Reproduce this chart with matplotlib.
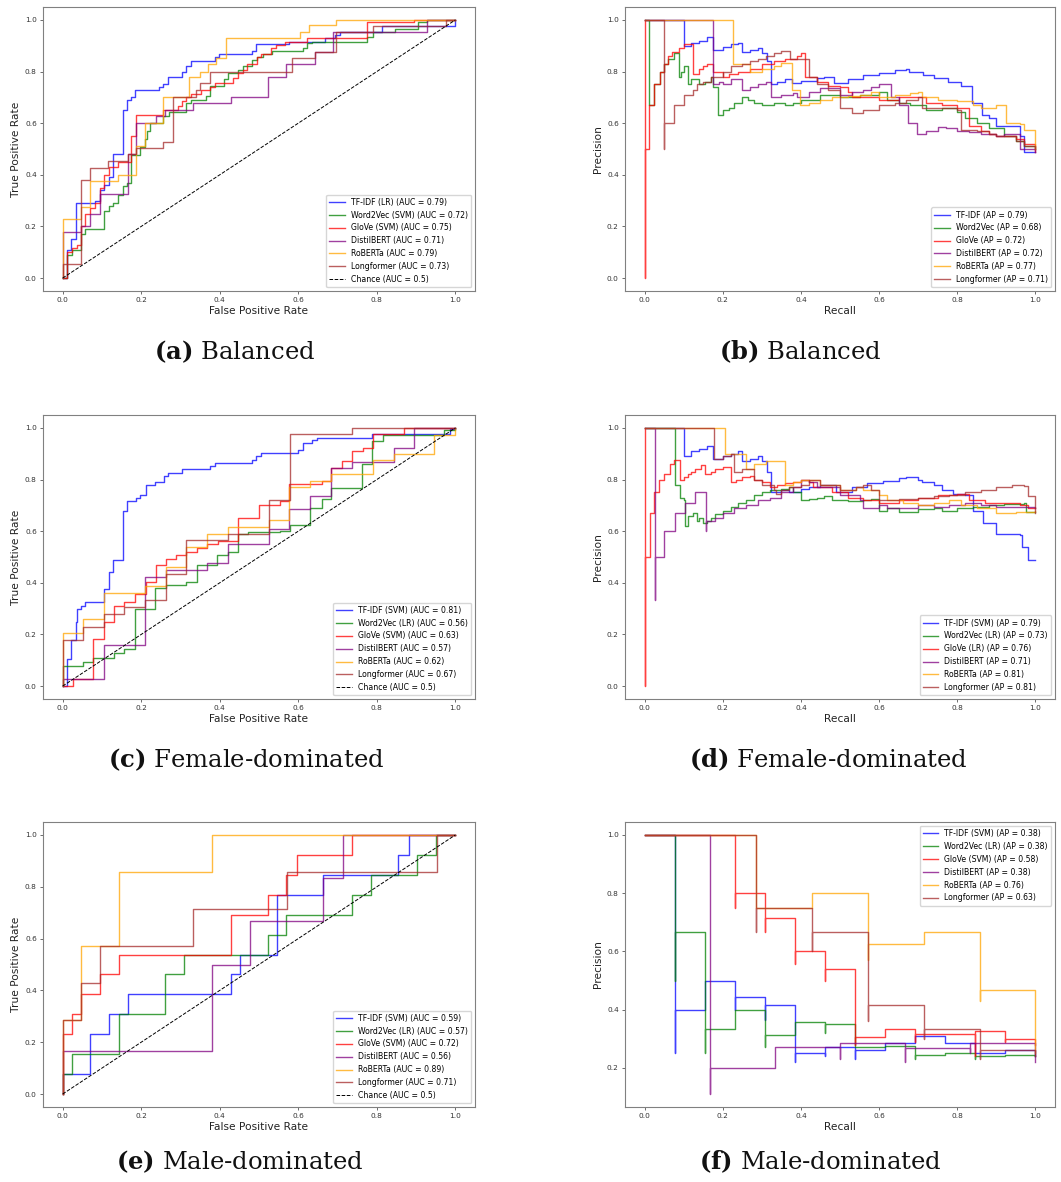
import matplotlib
matplotlib.use('Agg')
import matplotlib.pyplot as plt

plt.rcParams['mathtext.fontset'] = 'custom'
plt.rcParams['mathtext.rm'] = 'DejaVu Serif'
plt.rcParams['mathtext.bf'] = 'DejaVu Serif:bold'

COLORS = ['blue', 'green', 'red', 'purple', 'orange', 'brown']

# ---------------- (a) Balanced ROC ----------------
a_labels = ['TF-IDF (LR) (AUC = 0.79)', 'Word2Vec (SVM) (AUC = 0.72)', 'GloVe (SVM) (AUC = 0.75)',
            'DistilBERT (AUC = 0.71)', 'RoBERTa (AUC = 0.79)', 'Longformer (AUC = 0.73)']
a_tfidf_fpr = [0, 0.011, 0.021, 0.034, 0.083, 0.094, 0.106, 0.117, 0.128, 0.153, 0.164, 0.174, 0.185, 0.245, 0.255,
               0.268, 0.305, 0.315, 0.328, 0.387, 0.398, 0.481, 0.492, 0.577, 0.668, 0.694, 0.705, 0.813, 1.0]
a_tfidf_tpr = [0, 0.11, 0.15, 0.29, 0.30, 0.34, 0.36, 0.39, 0.48, 0.65, 0.69, 0.70, 0.73, 0.74, 0.75,
               0.78, 0.80, 0.82, 0.84, 0.855, 0.867, 0.88, 0.906, 0.916, 0.93, 0.94, 0.955, 0.978, 1.0]
a_w2v_fpr = [0, 0.011, 0.024, 0.047, 0.058, 0.106, 0.117, 0.128, 0.14, 0.153, 0.164, 0.174, 0.197, 0.209, 0.215,
             0.223, 0.255, 0.27, 0.315, 0.328, 0.364, 0.374, 0.411, 0.421, 0.447, 0.46, 0.481, 0.494, 0.51, 0.532,
             0.611, 0.621, 0.634, 0.774, 0.79, 0.847, 0.906, 0.928, 1.0]
a_w2v_tpr = [0, 0.09, 0.11, 0.17, 0.19, 0.26, 0.28, 0.29, 0.32, 0.355, 0.37, 0.476, 0.506, 0.538, 0.568,
             0.60, 0.626, 0.645, 0.677, 0.69, 0.706, 0.745, 0.77, 0.794, 0.806, 0.82, 0.843, 0.855, 0.868, 0.88,
             0.893, 0.91, 0.916, 0.935, 0.952, 0.965, 0.99, 1.0, 1.0]
a_glove_fpr = [0, 0.011, 0.024, 0.036, 0.047, 0.058, 0.07, 0.083, 0.094, 0.106, 0.117, 0.14, 0.174, 0.186, 0.255,
               0.294, 0.305, 0.315, 0.328, 0.353, 0.374, 0.387, 0.434, 0.447, 0.46, 0.47, 0.494, 0.506, 0.53, 0.543,
               0.566, 0.621, 0.774, 0.894, 1.0]
a_glove_tpr = [0, 0.10, 0.116, 0.13, 0.20, 0.25, 0.27, 0.29, 0.35, 0.40, 0.43, 0.45, 0.55, 0.63, 0.65,
               0.665, 0.684, 0.70, 0.712, 0.73, 0.742, 0.755, 0.774, 0.794, 0.806, 0.83, 0.855, 0.867, 0.89, 0.903,
               0.916, 0.929, 0.99, 1.0, 1.0]
a_distil_fpr = [0, 0, 0.047, 0.07, 0.094, 0.166, 0.187, 0.238, 0.261, 0.332, 0.428, 0.522, 0.57, 0.643, 0.689, 0.928, 1.0]
a_distil_tpr = [0, 0.177, 0.20, 0.25, 0.326, 0.48, 0.60, 0.628, 0.65, 0.677, 0.703, 0.777, 0.828, 0.877, 0.952, 1.0, 1.0]
a_roberta_fpr = [0, 0, 0.047, 0.07, 0.14, 0.187, 0.209, 0.255, 0.323, 0.349, 0.37, 0.391, 0.417, 0.604, 0.628, 0.696, 1.0]
a_roberta_tpr = [0, 0.228, 0.277, 0.377, 0.40, 0.51, 0.60, 0.703, 0.777, 0.80, 0.828, 0.852, 0.929, 0.955, 0.98, 1.0, 1.0]
a_long_fpr = [0, 0, 0.047, 0.07, 0.115, 0.166, 0.187, 0.255, 0.28, 0.34, 0.349, 0.374, 0.583, 0.643, 0.696, 0.79, 0.975, 1.0]
a_long_tpr = [0, 0.054, 0.378, 0.428, 0.454, 0.48, 0.503, 0.529, 0.703, 0.73, 0.755, 0.80, 0.854, 0.877, 0.955, 0.978, 1.0, 1.0]

# ---------------- (b) Balanced PR ----------------
b_labels = ['TF-IDF (AP = 0.79)', 'Word2Vec (AP = 0.68)', 'GloVe (AP = 0.72)',
            'DistilBERT (AP = 0.72)', 'RoBERTa (AP = 0.77)', 'Longformer (AP = 0.71)']
b_tfidf_rec = [0, 0.10, 0.12, 0.14, 0.16, 0.175, 0.20, 0.22, 0.24, 0.249, 0.27, 0.29, 0.30, 0.313, 0.324, 0.34, 0.36,
               0.377, 0.40, 0.44, 0.46, 0.485, 0.52, 0.56, 0.60, 0.64, 0.67, 0.677, 0.712, 0.74, 0.775, 0.81, 0.837,
               0.863, 0.88, 0.90, 0.96, 0.97, 1.0]
b_tfidf_prec = [1.0, 0.90, 0.91, 0.92, 0.935, 0.885, 0.895, 0.905, 0.91, 0.875, 0.885, 0.89, 0.87, 0.84, 0.75, 0.76, 0.77,
                0.755, 0.765, 0.775, 0.78, 0.755, 0.77, 0.785, 0.795, 0.805, 0.81, 0.80, 0.785, 0.775, 0.76, 0.745, 0.68,
                0.632, 0.62, 0.59, 0.55, 0.49, 0.49]
b_w2v_rec = [0, 0.012, 0.025, 0.04, 0.05, 0.06, 0.075, 0.087, 0.092, 0.10, 0.11, 0.12, 0.14, 0.155, 0.17, 0.175,
             0.187, 0.20, 0.215, 0.23, 0.25, 0.265, 0.28, 0.30, 0.33, 0.36, 0.38, 0.40, 0.45, 0.50, 0.55, 0.60, 0.62,
             0.65, 0.68, 0.72, 0.76, 0.80, 0.82, 0.85, 0.88, 0.92, 0.95, 0.97, 1.0]
b_w2v_prec = [1.0, 0.67, 0.75, 0.80, 0.83, 0.85, 0.87, 0.78, 0.80, 0.82, 0.75, 0.77, 0.75, 0.76, 0.78, 0.74,
              0.63, 0.65, 0.66, 0.68, 0.70, 0.69, 0.68, 0.67, 0.68, 0.67, 0.68, 0.69, 0.71, 0.70, 0.71, 0.72, 0.69,
              0.68, 0.67, 0.65, 0.66, 0.645, 0.62, 0.60, 0.58, 0.55, 0.53, 0.51, 0.50]
b_glove_rec = [0, 0, 0, 0.012, 0.025, 0.04, 0.05, 0.06, 0.07, 0.087, 0.10, 0.125, 0.14, 0.15, 0.16, 0.175, 0.20, 0.215,
               0.24, 0.27, 0.30, 0.33, 0.36, 0.39, 0.40, 0.41, 0.44, 0.47, 0.50, 0.52, 0.53, 0.60, 0.65, 0.70, 0.72,
               0.76, 0.80, 0.83, 0.86, 0.88, 0.90, 0.95, 0.97, 1.0]
b_glove_prec = [1.0, 0.0, 0.5, 0.67, 0.75, 0.80, 0.83, 0.86, 0.875, 0.89, 0.905, 0.79, 0.81, 0.82, 0.83, 0.80, 0.78, 0.79,
                0.80, 0.81, 0.83, 0.84, 0.85, 0.86, 0.87, 0.78, 0.76, 0.745, 0.74, 0.72, 0.70, 0.69, 0.70, 0.70, 0.68,
                0.67, 0.66, 0.59, 0.57, 0.56, 0.55, 0.54, 0.52, 0.49]
b_distil_rec = [0, 0.175, 0.19, 0.20, 0.22, 0.25, 0.27, 0.29, 0.31, 0.324, 0.35, 0.38, 0.39, 0.42, 0.45, 0.50, 0.53,
                0.56, 0.58, 0.60, 0.63, 0.65, 0.675, 0.698, 0.72, 0.75, 0.77, 0.80, 0.83, 0.86, 0.90, 0.92, 0.96, 1.0]
b_distil_prec = [1.0, 0.75, 0.76, 0.75, 0.77, 0.73, 0.74, 0.75, 0.76, 0.70, 0.71, 0.715, 0.70, 0.72, 0.735, 0.71, 0.72,
                 0.73, 0.74, 0.75, 0.70, 0.67, 0.60, 0.56, 0.57, 0.585, 0.58, 0.57, 0.565, 0.56, 0.55, 0.56, 0.50, 0.49]
b_roberta_rec = [0, 0.225, 0.27, 0.30, 0.33, 0.35, 0.377, 0.398, 0.42, 0.45, 0.48, 0.52, 0.55, 0.58, 0.60, 0.64, 0.68,
                 0.70, 0.71, 0.75, 0.80, 0.84, 0.86, 0.90, 0.925, 0.96, 0.97, 1.0]
b_roberta_prec = [1.0, 0.83, 0.80, 0.81, 0.82, 0.835, 0.73, 0.67, 0.68, 0.69, 0.70, 0.705, 0.71, 0.72, 0.70, 0.71, 0.715,
                  0.72, 0.70, 0.69, 0.685, 0.67, 0.66, 0.67, 0.60, 0.595, 0.575, 0.50]
b_long_rec = [0, 0.05, 0.05, 0.075, 0.10, 0.125, 0.135, 0.15, 0.17, 0.20, 0.22, 0.25, 0.27, 0.29, 0.31, 0.33, 0.35,
              0.373, 0.42, 0.44, 0.47, 0.50, 0.53, 0.56, 0.60, 0.64, 0.67, 0.70, 0.71, 0.75, 0.80, 0.81, 0.85, 0.88,
              0.90, 0.95, 0.97, 1.0]
b_long_prec = [1.0, 0.5, 0.6, 0.67, 0.71, 0.73, 0.75, 0.76, 0.78, 0.80, 0.82, 0.83, 0.84, 0.85, 0.86, 0.87, 0.88,
               0.85, 0.78, 0.75, 0.73, 0.66, 0.64, 0.65, 0.67, 0.68, 0.69, 0.70, 0.66, 0.66, 0.65, 0.575, 0.57, 0.56,
               0.55, 0.53, 0.51, 0.50]

# ---------------- (c) Female-dominated ROC ----------------
c_labels = ['TF-IDF (SVM) (AUC = 0.81)', 'Word2Vec (LR) (AUC = 0.56)', 'GloVe (SVM) (AUC = 0.63)',
            'DistilBERT (AUC = 0.57)', 'RoBERTa (AUC = 0.62)', 'Longformer (AUC = 0.67)']
c_tfidf_fpr = [0, 0.01, 0.021, 0.034, 0.036, 0.047, 0.058, 0.106, 0.117, 0.128, 0.153, 0.164, 0.187, 0.197, 0.213,
               0.234, 0.258, 0.268, 0.305, 0.374, 0.387, 0.481, 0.492, 0.506, 0.60, 0.611, 0.634, 0.647, 0.787,
               0.987, 1.0]
c_tfidf_tpr = [0, 0.103, 0.18, 0.25, 0.30, 0.31, 0.326, 0.375, 0.44, 0.49, 0.677, 0.716, 0.729, 0.74, 0.778,
               0.79, 0.814, 0.827, 0.839, 0.852, 0.865, 0.877, 0.89, 0.903, 0.916, 0.94, 0.952, 0.961, 0.978,
               0.997, 1.0]
c_w2v_fpr = [0, 0, 0.051, 0.077, 0.132, 0.157, 0.183, 0.234, 0.264, 0.315, 0.342, 0.393, 0.421, 0.447, 0.472,
             0.553, 0.579, 0.631, 0.66, 0.683, 0.762, 0.787, 0.815, 0.97, 1.0]
c_w2v_tpr = [0, 0.077, 0.092, 0.107, 0.13, 0.143, 0.30, 0.38, 0.39, 0.404, 0.47, 0.507, 0.52, 0.59, 0.597,
             0.60, 0.623, 0.688, 0.726, 0.768, 0.86, 0.95, 0.972, 0.99, 1.0]
c_glove_fpr = [0, 0.026, 0.078, 0.106, 0.132, 0.157, 0.183, 0.213, 0.237, 0.264, 0.289, 0.315, 0.342, 0.368, 0.396,
               0.447, 0.50, 0.553, 0.577, 0.66, 0.683, 0.711, 0.736, 0.764, 0.79, 0.868, 1.0]
c_glove_tpr = [0, 0.026, 0.183, 0.25, 0.31, 0.324, 0.355, 0.404, 0.468, 0.494, 0.507, 0.52, 0.535, 0.552, 0.563,
               0.652, 0.703, 0.716, 0.782, 0.795, 0.846, 0.872, 0.91, 0.924, 0.975, 1.0, 1.0]
c_distil_fpr = [0, 0, 0.106, 0.21, 0.264, 0.368, 0.421, 0.526, 0.577, 0.631, 0.683, 0.736, 0.843, 0.894, 1.0]
c_distil_tpr = [0, 0.026, 0.159, 0.423, 0.449, 0.475, 0.552, 0.608, 0.685, 0.737, 0.843, 0.868, 0.923, 1.0, 1.0]
c_roberta_fpr = [0, 0, 0.051, 0.106, 0.21, 0.264, 0.315, 0.368, 0.421, 0.526, 0.577, 0.631, 0.683, 0.79, 0.843, 0.946, 1.0]
c_roberta_tpr = [0, 0.206, 0.258, 0.361, 0.387, 0.462, 0.539, 0.59, 0.617, 0.643, 0.772, 0.795, 0.821, 0.875, 0.90, 0.972, 1.0]
c_long_fpr = [0, 0, 0.051, 0.106, 0.157, 0.21, 0.264, 0.315, 0.421, 0.526, 0.579, 0.736, 1.0]
c_long_tpr = [0, 0.18, 0.23, 0.28, 0.307, 0.335, 0.436, 0.565, 0.59, 0.72, 0.975, 1.0, 1.0]

# ---------------- (d) Female-dominated PR ----------------
d_labels = ['TF-IDF (SVM) (AP = 0.79)', 'Word2Vec (LR) (AP = 0.73)', 'GloVe (LR) (AP = 0.76)',
            'DistilBERT (AP = 0.71)', 'RoBERTa (AP = 0.81)', 'Longformer (AP = 0.81)']
d_tfidf_rec = [0, 0.10, 0.12, 0.14, 0.16, 0.175, 0.20, 0.22, 0.24, 0.25, 0.27, 0.29, 0.30, 0.313, 0.324, 0.35, 0.37,
               0.40, 0.42, 0.45, 0.49, 0.53, 0.57, 0.61, 0.65, 0.67, 0.70, 0.71, 0.74, 0.76, 0.79, 0.82, 0.84, 0.865,
               0.90, 0.96, 0.965, 0.98, 1.0]
d_tfidf_prec = [1.0, 0.89, 0.91, 0.92, 0.93, 0.88, 0.89, 0.90, 0.91, 0.87, 0.88, 0.89, 0.87, 0.83, 0.75, 0.76, 0.75,
                0.765, 0.77, 0.78, 0.75, 0.77, 0.785, 0.795, 0.805, 0.81, 0.80, 0.79, 0.78, 0.76, 0.745, 0.74, 0.68,
                0.63, 0.59, 0.585, 0.54, 0.49, 0.49]
d_w2v_rec = [0, 0.077, 0.09, 0.10, 0.103, 0.11, 0.125, 0.135, 0.14, 0.15, 0.16, 0.17, 0.18, 0.20, 0.22, 0.24, 0.26,
             0.28, 0.30, 0.32, 0.35, 0.37, 0.38, 0.40, 0.42, 0.44, 0.46, 0.48, 0.52, 0.56, 0.58, 0.60, 0.62, 0.65,
             0.70, 0.74, 0.76, 0.80, 0.84, 0.88, 0.92, 0.97, 0.975, 1.0]
d_w2v_prec = [1.0, 0.78, 0.73, 0.72, 0.62, 0.66, 0.67, 0.64, 0.65, 0.63, 0.64, 0.65, 0.665, 0.68, 0.695, 0.71, 0.72,
              0.74, 0.75, 0.76, 0.765, 0.77, 0.75, 0.72, 0.725, 0.73, 0.735, 0.72, 0.715, 0.72, 0.725, 0.68, 0.69, 0.675,
              0.685, 0.69, 0.68, 0.69, 0.695, 0.70, 0.705, 0.71, 0.675, 0.675]
d_glove_rec = [0, 0, 0, 0.015, 0.025, 0.038, 0.05, 0.065, 0.075, 0.09, 0.10, 0.11, 0.12, 0.13, 0.145, 0.155, 0.17,
               0.18, 0.20, 0.22, 0.235, 0.25, 0.27, 0.28, 0.30, 0.32, 0.34, 0.36, 0.38, 0.40, 0.42, 0.43, 0.48, 0.52,
               0.56, 0.60, 0.65, 0.70, 0.75, 0.80, 0.83, 0.87, 0.92, 0.96, 0.98, 1.0]
d_glove_prec = [1.0, 0.0, 0.5, 0.67, 0.75, 0.80, 0.82, 0.86, 0.875, 0.80, 0.81, 0.82, 0.83, 0.84, 0.855, 0.82, 0.83,
                0.84, 0.85, 0.79, 0.80, 0.81, 0.815, 0.80, 0.79, 0.77, 0.78, 0.785, 0.79, 0.80, 0.79, 0.77, 0.75, 0.73,
                0.72, 0.71, 0.72, 0.73, 0.74, 0.745, 0.72, 0.71, 0.71, 0.70, 0.69, 0.69]
d_distil_rec = [0, 0.026, 0.026, 0.05, 0.077, 0.103, 0.13, 0.158, 0.158, 0.18, 0.20, 0.23, 0.26, 0.29, 0.32, 0.35,
                0.38, 0.40, 0.42, 0.44, 0.50, 0.55, 0.56, 0.60, 0.62, 0.66, 0.70, 0.74, 0.78, 0.82, 0.86, 0.90, 1.0]
d_distil_prec = [1.0, 0.333, 0.5, 0.6, 0.67, 0.71, 0.75, 0.60, 0.64, 0.65, 0.67, 0.69, 0.70, 0.72, 0.73, 0.75,
                 0.77, 0.80, 0.79, 0.77, 0.74, 0.72, 0.69, 0.70, 0.69, 0.69, 0.70, 0.695, 0.70, 0.71, 0.70, 0.695, 0.69]
d_roberta_rec = [0, 0.205, 0.26, 0.28, 0.31, 0.36, 0.38, 0.40, 0.45, 0.50, 0.54, 0.56, 0.60, 0.62, 0.66, 0.70, 0.74,
                 0.78, 0.81, 0.85, 0.90, 0.95, 1.0]
d_roberta_prec = [1.0, 0.90, 0.84, 0.86, 0.87, 0.78, 0.79, 0.80, 0.78, 0.76, 0.77, 0.76, 0.74, 0.72, 0.71, 0.70, 0.71,
                  0.72, 0.70, 0.69, 0.67, 0.675, 0.68]
d_long_rec = [0, 0.178, 0.20, 0.22, 0.23, 0.25, 0.28, 0.30, 0.33, 0.335, 0.35, 0.37, 0.40, 0.42, 0.45, 0.50, 0.54,
              0.56, 0.58, 0.60, 0.65, 0.70, 0.74, 0.78, 0.82, 0.86, 0.90, 0.94, 0.97, 0.98, 1.0]
d_long_prec = [1.0, 0.88, 0.89, 0.90, 0.83, 0.84, 0.80, 0.78, 0.76, 0.745, 0.76, 0.77, 0.78, 0.80, 0.78, 0.76, 0.77,
               0.78, 0.76, 0.72, 0.725, 0.73, 0.735, 0.74, 0.75, 0.76, 0.77, 0.78, 0.775, 0.735, 0.67]

# ---------------- (e) Male-dominated ROC ----------------
e_labels = ['TF-IDF (SVM) (AUC = 0.59)', 'Word2Vec (LR) (AUC = 0.57)', 'GloVe (SVM) (AUC = 0.72)',
            'DistilBERT (AUC = 0.56)', 'RoBERTa (AUC = 0.89)', 'Longformer (AUC = 0.71)']
e_tfidf_fpr = [0, 0, 0.07, 0.117, 0.166, 0.428, 0.451, 0.545, 0.664, 0.855, 0.881, 1.0]
e_tfidf_tpr = [0, 0.077, 0.231, 0.308, 0.385, 0.462, 0.538, 0.769, 0.846, 0.923, 1.0, 1.0]
e_w2v_fpr = [0, 0, 0.023, 0.143, 0.261, 0.308, 0.523, 0.57, 0.738, 0.785, 0.902, 0.951, 1.0]
e_w2v_tpr = [0, 0.077, 0.154, 0.308, 0.462, 0.538, 0.615, 0.692, 0.769, 0.846, 0.923, 1.0, 1.0]
e_glove_fpr = [0, 0, 0.023, 0.047, 0.095, 0.143, 0.428, 0.523, 0.57, 0.596, 0.738, 1.0]
e_glove_tpr = [0, 0.231, 0.308, 0.385, 0.462, 0.538, 0.692, 0.769, 0.846, 0.923, 1.0, 1.0]
e_distil_fpr = [0, 0, 0.381, 0.477, 0.664, 0.713, 1.0]
e_distil_tpr = [0, 0.167, 0.5, 0.667, 0.833, 1.0, 1.0]
e_roberta_fpr = [0, 0, 0.048, 0.143, 0.381, 1.0]
e_roberta_tpr = [0, 0.286, 0.571, 0.857, 1.0, 1.0]
e_long_fpr = [0, 0, 0.048, 0.095, 0.333, 0.571, 0.952, 1.0]
e_long_tpr = [0, 0.286, 0.429, 0.571, 0.714, 0.857, 1.0, 1.0]

# ---------------- (f) Male-dominated PR ----------------
f_labels = ['TF-IDF (SVM) (AP = 0.38)', 'Word2Vec (LR) (AP = 0.38)', 'GloVe (SVM) (AP = 0.58)',
            'DistilBERT (AP = 0.38)', 'RoBERTa (AP = 0.76)', 'Longformer (AP = 0.63)']
f_tfidf_rec = [0, 0.077, 0.077, 0.154, 0.231, 0.231, 0.308, 0.308, 0.385, 0.385, 0.462, 0.462, 0.538, 0.538, 0.615,
               0.692, 0.769, 0.846, 0.923, 1.0]
f_tfidf_prec = [1.0, 0.25, 0.40, 0.50, 0.40, 0.444, 0.364, 0.417, 0.22, 0.25, 0.24, 0.27, 0.23, 0.26, 0.286,
                0.308, 0.286, 0.25, 0.26, 0.24]
f_w2v_rec = [0, 0.077, 0.077, 0.154, 0.154, 0.231, 0.308, 0.308, 0.385, 0.462, 0.462, 0.538, 0.615, 0.692, 0.692,
             0.769, 0.846, 0.846, 0.923, 1.0]
f_w2v_prec = [1.0, 0.5, 0.667, 0.25, 0.333, 0.40, 0.27, 0.3125, 0.357, 0.32, 0.35, 0.27, 0.275, 0.23, 0.245,
              0.25, 0.23, 0.24, 0.245, 0.24]
f_glove_rec = [0, 0.231, 0.231, 0.308, 0.308, 0.385, 0.385, 0.462, 0.462, 0.538, 0.538, 0.615, 0.692, 0.692, 0.846,
               0.846, 0.923, 0.923, 1.0]
f_glove_prec = [1.0, 0.75, 0.80, 0.667, 0.714, 0.556, 0.60, 0.50, 0.538, 0.28, 0.307, 0.333, 0.29, 0.315, 0.24,
                0.325, 0.29, 0.30, 0.28]
f_distil_rec = [0, 0.167, 0.167, 0.333, 0.5, 0.5, 0.667, 0.667, 0.833, 0.833, 1.0]
f_distil_prec = [1.0, 0.11, 0.20, 0.273, 0.23, 0.286, 0.22, 0.267, 0.25, 0.286, 0.22]
f_roberta_rec = [0, 0.286, 0.429, 0.571, 0.571, 0.714, 0.857, 0.857, 1.0]
f_roberta_prec = [1.0, 0.75, 0.80, 0.57, 0.625, 0.667, 0.43, 0.467, 0.25]
f_long_rec = [0, 0.286, 0.286, 0.429, 0.429, 0.571, 0.571, 0.714, 0.714, 0.857, 0.857, 1.0]
f_long_prec = [1.0, 0.667, 0.75, 0.60, 0.667, 0.36, 0.417, 0.30, 0.333, 0.23, 0.26, 0.24]

chance_x = [0, 1]
chance_y = [0, 1]

captions = [('a', 'Balanced'), ('b', 'Balanced'), ('c', 'Female-dominated'),
            ('d', 'Female-dominated'), ('e', 'Male-dominated'), ('f', 'Male-dominated')]

W, H = 1061, 1182
fig = plt.figure(figsize=(W / 100, H / 100), dpi=100)


def add_ax(left, top, right, bottom):
    return fig.add_axes([left / W, 1 - bottom / H, (right - left) / W, (bottom - top) / H])


def style(ax, xlabel, ylabel):
    for s in ax.spines.values():
        s.set_color('#808080')
        s.set_linewidth(0.8)
    ax.tick_params(labelsize=5.3, length=2.5, width=0.6, color='#555555', labelcolor='#333333', pad=2)
    ax.set_xlabel(xlabel, fontsize=7.7, color='#222222', labelpad=2)
    ax.set_ylabel(ylabel, fontsize=7.7, color='#222222', labelpad=3)


def draw(ax, curves, labels, roc, loc):
    for (x, y), lab, c in zip(curves, labels, COLORS):
        ax.plot(x, y, drawstyle='steps-post', color=c, lw=1.0, alpha=0.75, label=lab)
    if roc:
        ax.plot(chance_x, chance_y, 'k--', lw=0.7, label='Chance (AUC = 0.5)')
    ax.legend(loc=loc, fontsize=5.6, handlelength=2.0, borderaxespad=0.5)


panels = [
    (add_ax(43, 7, 475, 291), [(a_tfidf_fpr, a_tfidf_tpr), (a_w2v_fpr, a_w2v_tpr), (a_glove_fpr, a_glove_tpr),
                               (a_distil_fpr, a_distil_tpr), (a_roberta_fpr, a_roberta_tpr), (a_long_fpr, a_long_tpr)],
     a_labels, True, 'lower right'),
    (add_ax(625, 7, 1055, 291), [(b_tfidf_rec, b_tfidf_prec), (b_w2v_rec, b_w2v_prec), (b_glove_rec, b_glove_prec),
                                 (b_distil_rec, b_distil_prec), (b_roberta_rec, b_roberta_prec), (b_long_rec, b_long_prec)],
     b_labels, False, 'lower right'),
    (add_ax(43, 415, 475, 699), [(c_tfidf_fpr, c_tfidf_tpr), (c_w2v_fpr, c_w2v_tpr), (c_glove_fpr, c_glove_tpr),
                                 (c_distil_fpr, c_distil_tpr), (c_roberta_fpr, c_roberta_tpr), (c_long_fpr, c_long_tpr)],
     c_labels, True, 'lower right'),
    (add_ax(625, 415, 1055, 699), [(d_tfidf_rec, d_tfidf_prec), (d_w2v_rec, d_w2v_prec), (d_glove_rec, d_glove_prec),
                                   (d_distil_rec, d_distil_prec), (d_roberta_rec, d_roberta_prec), (d_long_rec, d_long_prec)],
     d_labels, False, 'lower right'),
    (add_ax(43, 822, 475, 1107), [(e_tfidf_fpr, e_tfidf_tpr), (e_w2v_fpr, e_w2v_tpr), (e_glove_fpr, e_glove_tpr),
                                  (e_distil_fpr, e_distil_tpr), (e_roberta_fpr, e_roberta_tpr), (e_long_fpr, e_long_tpr)],
     e_labels, True, 'lower right'),
    (add_ax(625, 822, 1055, 1107), [(f_tfidf_rec, f_tfidf_prec), (f_w2v_rec, f_w2v_prec), (f_glove_rec, f_glove_prec),
                                    (f_distil_rec, f_distil_prec), (f_roberta_rec, f_roberta_prec), (f_long_rec, f_long_prec)],
     f_labels, False, 'upper right'),
]

for ax, curves, labels, roc, loc in panels:
    draw(ax, curves, labels, roc, loc)
    if roc:
        style(ax, 'False Positive Rate', 'True Positive Rate')
    else:
        style(ax, 'Recall', 'Precision')

cap_pos = [(235, 352), (800, 352), (246, 760), (828, 760), (240, 1162), (820, 1162)]
for (letter, text), (cx, cy) in zip(captions, cap_pos):
    fig.text(cx / W, 1 - cy / H, r'$\mathbf{(' + letter + r')}$ ' + text, ha='center', va='center',
             fontsize=17.5, family='DejaVu Serif', color='#111111')

fig.savefig('out.png', dpi=100, facecolor='white')
